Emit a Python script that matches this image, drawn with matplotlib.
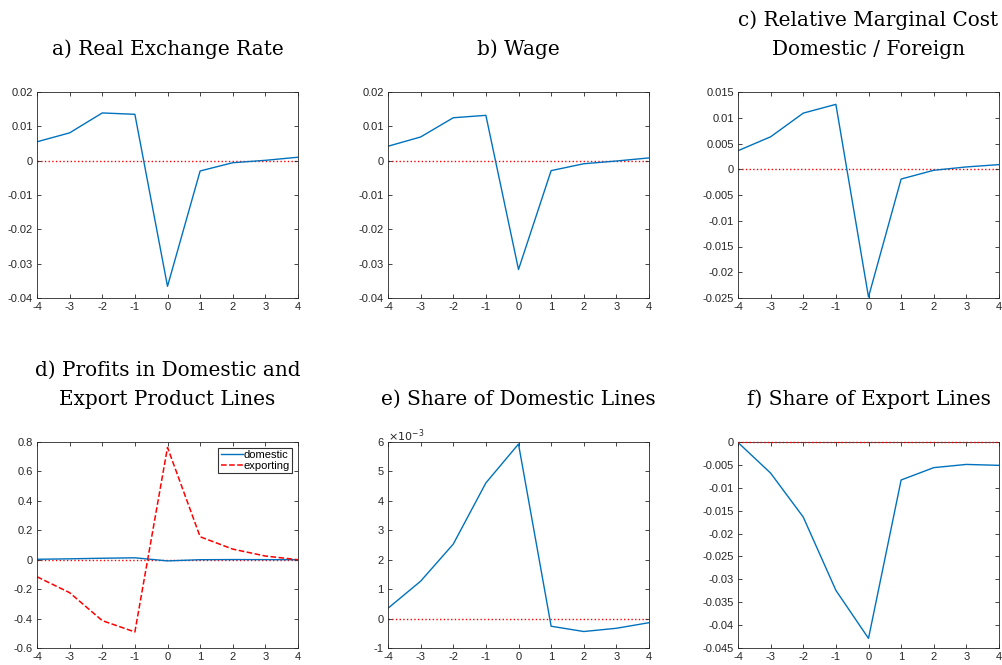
import numpy as np
import matplotlib
matplotlib.use("Agg")
import matplotlib.pyplot as plt
from matplotlib.ticker import FuncFormatter

plt.rcParams['font.family'] = ['Liberation Sans', 'DejaVu Sans']
plt.rcParams['axes.unicode_minus'] = False

# 事件窗口 (期)
periods = [-4, -3, -2, -1, 0, 1, 2, 3, 4]

rer = [0.0055, 0.0081, 0.0139, 0.0135, -0.0366, -0.0030, -0.0006, 0.0001, 0.0010]
wage = [0.0042, 0.0069, 0.0125, 0.0132, -0.0317, -0.0029, -0.0009, -0.0001, 0.0008]
rel_mc = [0.0036, 0.0063, 0.0109, 0.0126, -0.0248, -0.0019, -0.0002, 0.00045, 0.0009]
profit_dom = [0.003, 0.006, 0.010, 0.013, -0.008, 0.000, 0.001, 0.0005, 0.000]
profit_exp = [-0.116, -0.224, -0.414, -0.491, 0.763, 0.156, 0.072, 0.025, 0.000]
share_dom = [0.00035, 0.00127, 0.00253, 0.00461, 0.00593, -0.00026, -0.00044, -0.00033, -0.00014]
share_exp = [-0.0001, -0.0068, -0.0164, -0.0324, -0.0429, -0.0083, -0.0056, -0.0049, -0.0051]

titles = ["a) Real Exchange Rate", "b) Wage",
          "c) Relative Marginal Cost\nDomestic / Foreign",
          "d) Profits in Domestic and\nExport Product Lines",
          "e) Share of Domestic Lines", "f) Share of Export Lines"]

yticks = [[0.02, 0.01, 0, -0.01, -0.02, -0.03, -0.04],
          [0.02, 0.01, 0, -0.01, -0.02, -0.03, -0.04],
          [0.015, 0.01, 0.005, 0, -0.005, -0.01, -0.015, -0.02, -0.025],
          [0.8, 0.6, 0.4, 0.2, 0, -0.2, -0.4, -0.6],
          [0.006, 0.005, 0.004, 0.003, 0.002, 0.001, 0, -0.001],
          [0, -0.005, -0.01, -0.015, -0.02, -0.025, -0.03, -0.035, -0.04, -0.045]]

blue = '#0072BD'
grey = '#262626'

fig = plt.figure(figsize=(10.02, 6.65), dpi=100)
W, H = 1002, 665
lefts = [37, 388, 738]
tops = [92, 442]
aw, ah = 261, 206

series = [rer, wage, rel_mc, None, share_dom, share_exp]
axes = []
for i in range(6):
    r, c = divmod(i, 3)
    ax = fig.add_axes([lefts[c] / W, 1 - (tops[r] + ah) / H, aw / W, ah / H])
    axes.append(ax)
    ax.axhline(0, color='red', ls=':', lw=1.0, zorder=3 if i == 5 else 1, clip_on=False)
    if i == 3:
        ax.plot(periods, profit_dom, color=blue, lw=1.0, label='domestic', zorder=2)
        ax.plot(periods, profit_exp, color='red', ls='--', lw=1.1, label='exporting', zorder=2)
        leg = ax.legend(loc='upper right', fontsize=8, frameon=True, fancybox=False,
                        borderaxespad=0.5, handlelength=2.0, handletextpad=0.1,
                        borderpad=0.2, labelspacing=0.1)
        leg.get_frame().set_edgecolor('black')
        leg.get_frame().set_linewidth(0.8)
    else:
        ax.plot(periods, series[i], color=blue, lw=1.0, zorder=2)
    yt = yticks[i]
    ax.set_xlim(-4, 4)
    ax.set_ylim(min(yt), max(yt))
    ax.set_xticks(periods)
    ax.set_yticks(yt)
    if i == 4:
        ax.yaxis.set_major_formatter(FuncFormatter(lambda v, p: '%g' % round(v * 1e3, 6)))
        ax.text(0.0, 0.99, r'$\times10^{-3}$', transform=ax.transAxes, fontsize=8,
                color=grey, ha='left', va='bottom')
    else:
        ax.yaxis.set_major_formatter(FuncFormatter(lambda v, p: '%g' % round(v, 6)))
    ax.tick_params(direction='in', length=3, width=0.6, top=True, right=True,
                   labelsize=8, colors=grey, pad=3)
    for s in ax.spines.values():
        s.set_color(grey)
        s.set_linewidth(0.6)
    ax.set_title(titles[i], family=['DejaVu Serif'], fontsize=14.4, y=1.16,
                 pad=0, va='bottom', linespacing=1.7)

fig.savefig('out.png', dpi=100)
